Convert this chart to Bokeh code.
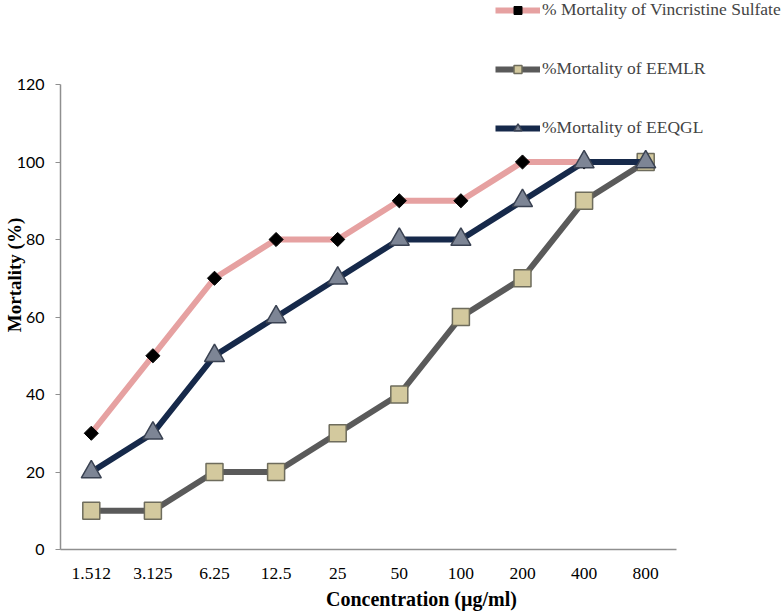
import math
from bokeh.plotting import figure
from bokeh.models import Range1d, Legend, LegendItem, SingleIntervalTicker, FixedTicker, ColumnDataSource
from bokeh.embed import file_html
from bokeh.resources import INLINE

concentrations = ["1.512", "3.125", "6.25", "12.5", "25", "50", "100", "200", "400", "800"]
vincristine = [30, 50, 70, 80, 80, 90, 90, 100, 100, 100]
eemlr = [10, 10, 20, 20, 30, 40, 60, 70, 90, 100]
eeqgl = [20, 30, 50, 60, 70, 80, 80, 90, 100, 100]

# layout (pixels)
W, H = 782, 613
LEFT, BOTTOM = 60, 64
CAT_W = 61.6          # pixel width of one category slot
Y_TOP_PX = 84         # pixels between frame top and the 120 level
frame_h = H - BOTTOM
n = len(concentrations)
xpos = list(range(n))
x_end = -0.5 + (W - LEFT) / CAT_W
y_end = 120 + Y_TOP_PX * 120 / (frame_h - Y_TOP_PX)

p = figure(width=W, height=H, x_range=Range1d(-0.5, x_end), y_range=Range1d(0, y_end),
           output_backend="svg", toolbar_location=None,
           min_border_left=LEFT, min_border_right=0, min_border_top=0, min_border_bottom=BOTTOM)
p.outline_line_color = None
p.grid.visible = False

src = ColumnDataSource(dict(x=xpos, v=vincristine, m=eemlr, q=eeqgl))

l1 = p.line("x", "v", source=src, line_color="#e6a1a1", line_width=6)
m1 = p.scatter("x", "v", source=src, marker="square", angle=math.pi / 4, size=10,
               fill_color="black", line_color="black")
l2 = p.line("x", "m", source=src, line_color="#5a5a5a", line_width=6)
m2 = p.scatter("x", "m", source=src, marker="square", size=17, fill_color="#d3c99e",
               line_color="#6e6c5c", line_width=1.5)
l3 = p.line("x", "q", source=src, line_color="#16294a", line_width=6)
m3 = p.scatter("x", "q", source=src, marker="triangle", size=20, fill_color="#7d8595",
               line_color="#3a4252", line_width=1.5)

p.yaxis.ticker = SingleIntervalTicker(interval=20)
p.yaxis.bounds = (0, 120)
p.xaxis.ticker = FixedTicker(ticks=xpos)
p.xaxis.major_label_overrides = {i: c for i, c in zip(xpos, concentrations)}
p.xaxis.bounds = (-0.5, n - 0.5)
for ax in (p.xaxis, p.yaxis):
    ax.axis_line_color = "#8f8f8f"
    ax.axis_line_width = 1.5
    ax.major_tick_line_color = "#8f8f8f"
    ax.minor_tick_line_color = None
    ax.axis_label_text_font = "Liberation Serif"
    ax.axis_label_text_font_style = "bold"
    ax.axis_label_text_color = "black"
    ax.major_label_text_color = "black"

p.xaxis.major_tick_line_color = None
p.xaxis.major_label_text_font = "Liberation Serif"
p.xaxis.major_label_text_font_size = "17.5px"
p.xaxis.major_label_standoff = 12
p.xaxis.axis_label = "Concentration (µg/ml)"
p.xaxis.axis_label_text_font_size = "20px"
p.xaxis.axis_label_standoff = 6

p.yaxis.major_label_text_font = "Lato"
p.yaxis.major_label_text_font_size = "16px"
p.yaxis.major_tick_out = 5
p.yaxis.major_tick_in = 0
p.yaxis.major_label_standoff = 11
p.yaxis.axis_label = "Mortality (%)"
p.yaxis.axis_label_text_font_size = "19px"
p.yaxis.axis_label_standoff = -11

LEG_TOP = 2
legend = Legend(items=[
    LegendItem(label="% Mortality of Vincristine Sulfate", renderers=[l1, m1]),
    LegendItem(label="%Mortality of EEMLR", renderers=[l2, m2]),
    LegendItem(label="%Mortality of EEQGL", renderers=[l3, m3]),
], location=(435, frame_h - 136 - LEG_TOP))
legend.label_text_font = "Liberation Serif"
legend.label_text_font_size = "17.5px"
legend.glyph_width = 45
legend.glyph_height = 20
legend.label_height = 20
legend.spacing = 38
legend.label_standoff = 2
legend.padding = 0
legend.margin = 0
legend.border_line_color = None
legend.background_fill_alpha = 0
p.add_layout(legend, "center")

open("out.html", "w").write(file_html(p, INLINE))
